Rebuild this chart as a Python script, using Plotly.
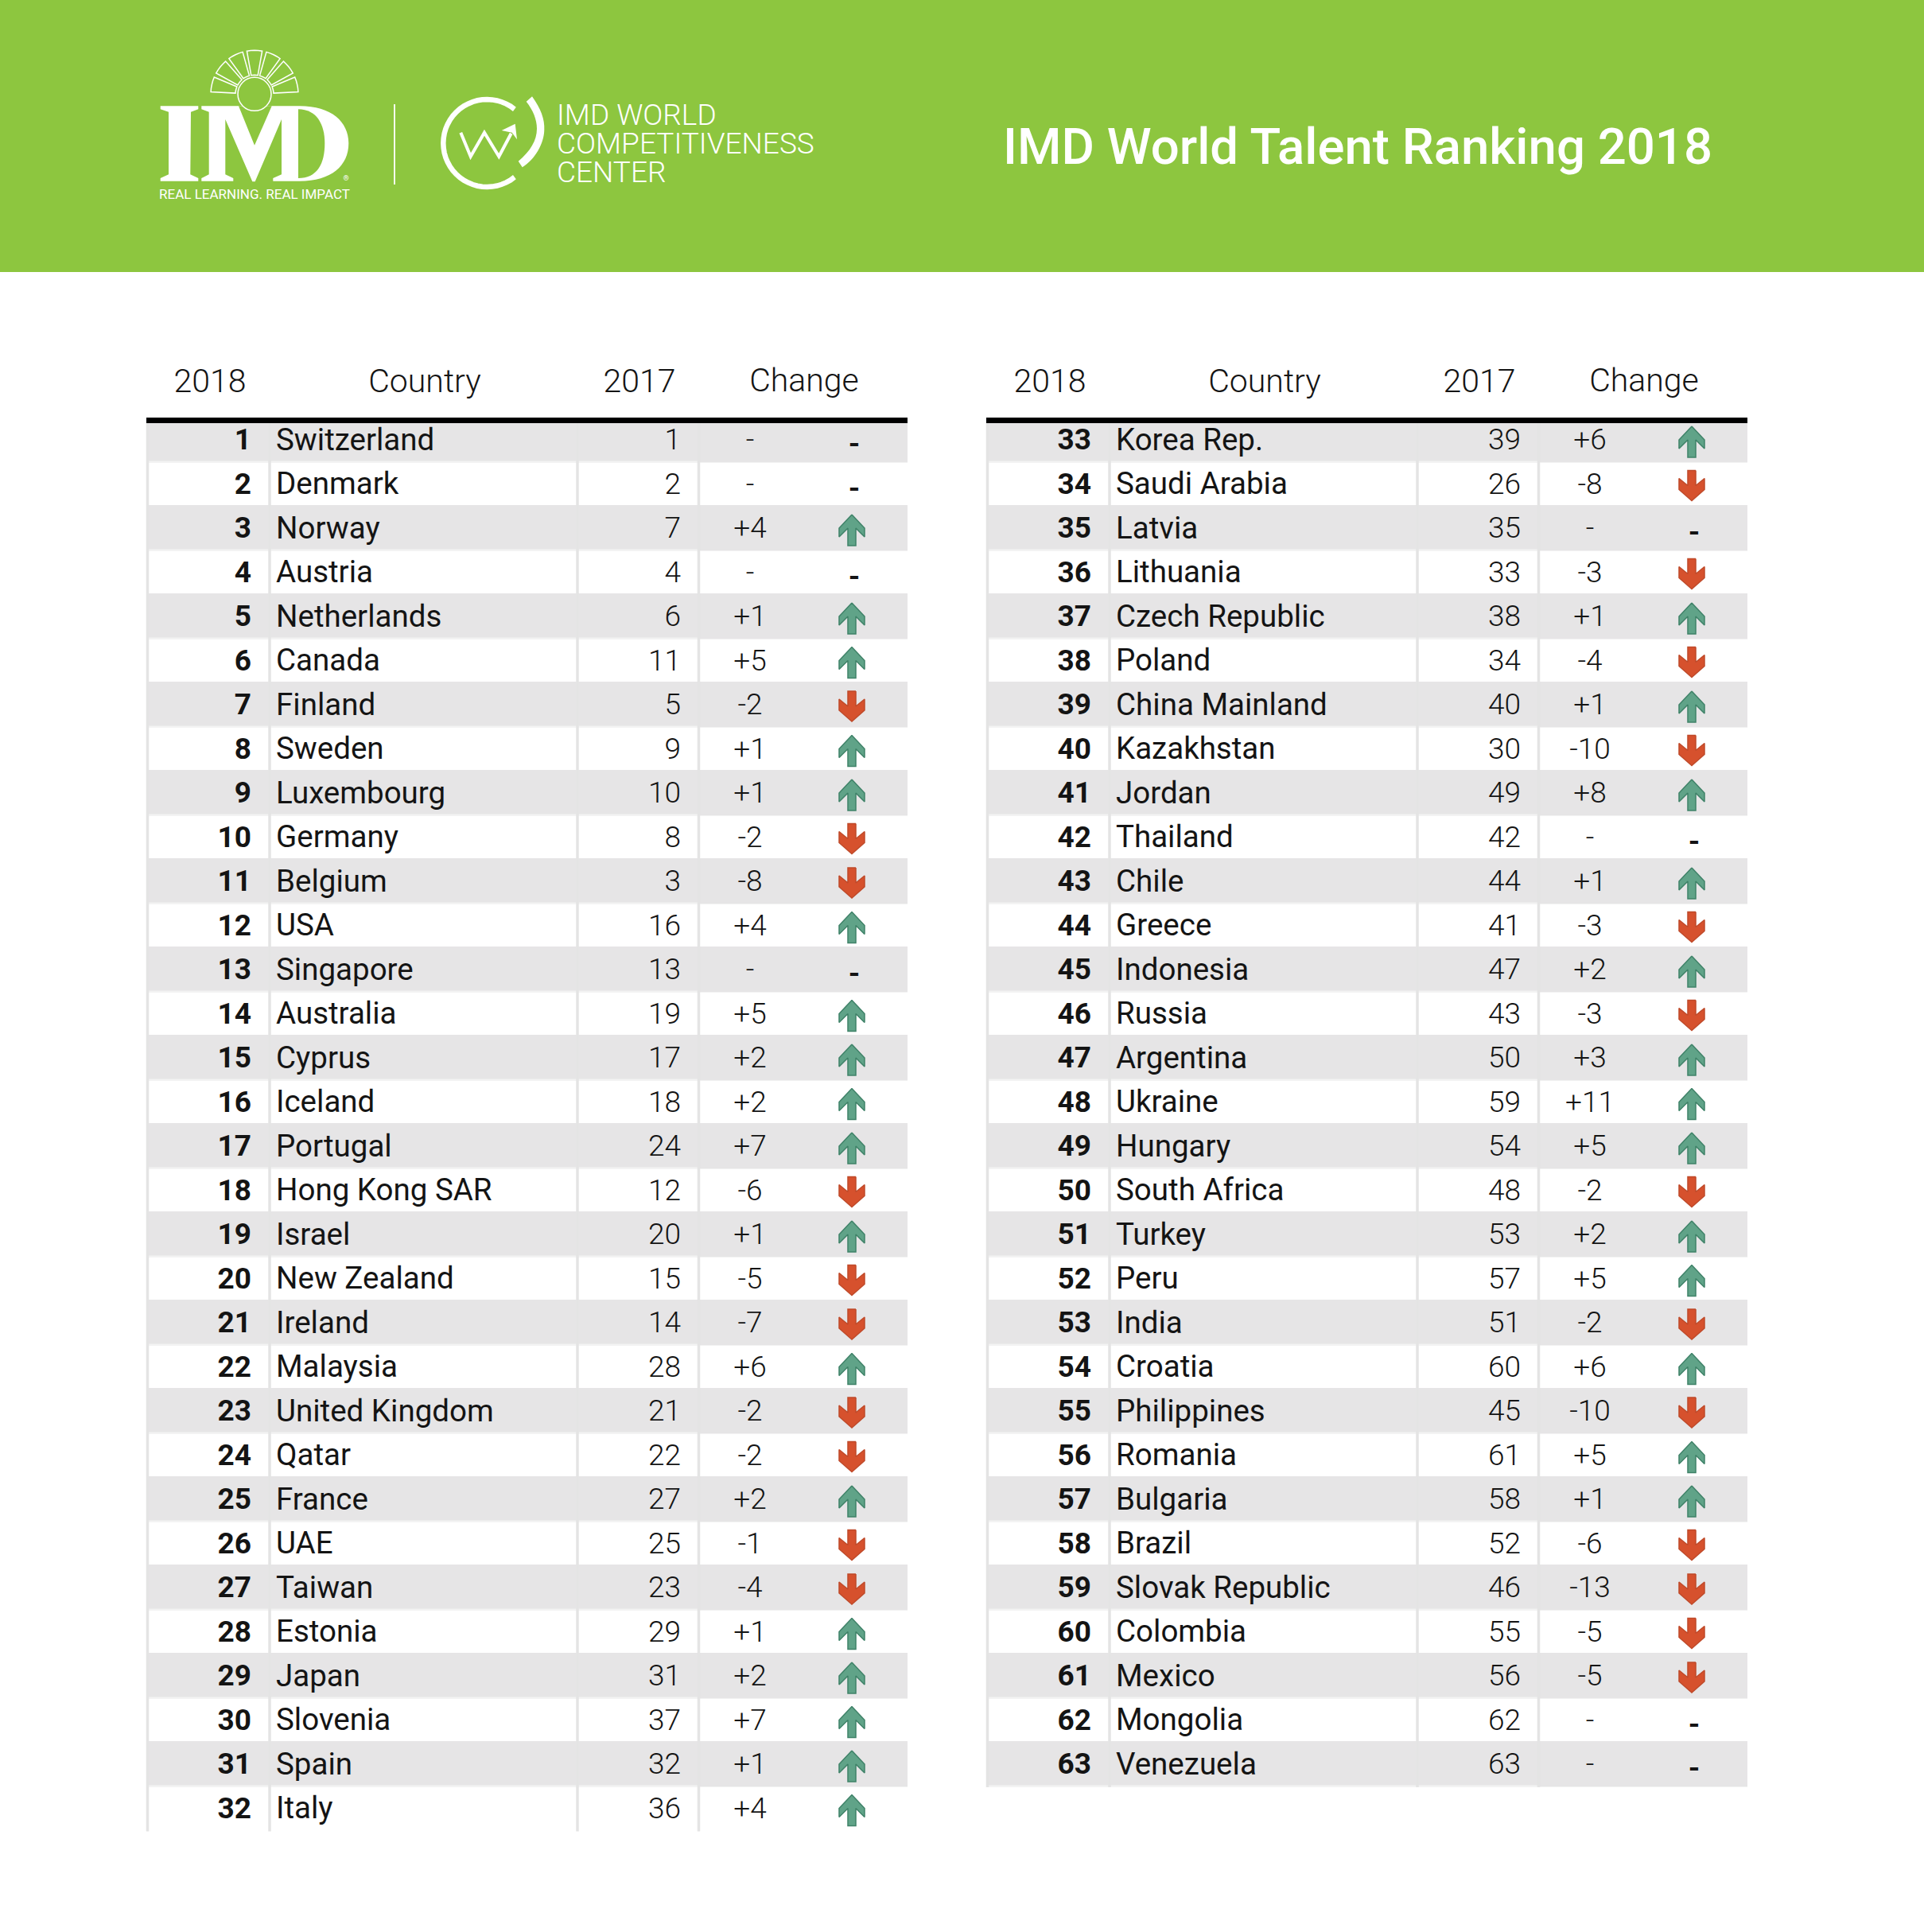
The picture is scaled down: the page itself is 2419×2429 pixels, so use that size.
import math
import plotly.graph_objects as go

# Table data
countries = ["Switzerland", "Denmark", "Norway", "Austria", "Netherlands", "Canada", "Finland", "Sweden",
             "Luxembourg", "Germany", "Belgium", "USA", "Singapore", "Australia", "Cyprus", "Iceland",
             "Portugal", "Hong Kong SAR", "Israel", "New Zealand", "Ireland", "Malaysia", "United Kingdom",
             "Qatar", "France", "UAE", "Taiwan", "Estonia", "Japan", "Slovenia", "Spain", "Italy",
             "Korea Rep.", "Saudi Arabia", "Latvia", "Lithuania", "Czech Republic", "Poland", "China Mainland",
             "Kazakhstan", "Jordan", "Thailand", "Chile", "Greece", "Indonesia", "Russia", "Argentina",
             "Ukraine", "Hungary", "South Africa", "Turkey", "Peru", "India", "Croatia", "Philippines",
             "Romania", "Bulgaria", "Brazil", "Slovak Republic", "Colombia", "Mexico", "Mongolia", "Venezuela"]
rank_2018 = list(range(1, 64))
rank_2017 = [1, 2, 7, 4, 6, 11, 5, 9, 10, 8, 3, 16, 13, 19, 17, 18, 24, 12, 20, 15, 14, 28, 21, 22, 27, 25, 23,
             29, 31, 37, 32, 36,
             39, 26, 35, 33, 38, 34, 40, 30, 49, 42, 44, 41, 47, 43, 50, 59, 54, 48, 53, 57, 51, 60, 45, 61, 58,
             52, 46, 55, 56, 62, 63]
change = [0, 0, 4, 0, 1, 5, -2, 1, 1, -2, -8, 4, 0, 5, 2, 2, 7, -6, 1, -5, -7, 6, -2, -2, 2, -1, -4, 1, 2, 7, 1, 4,
          6, -8, 0, -3, 1, -4, 1, -10, 8, 0, 1, -3, 2, -3, 3, 11, 5, -2, 2, 5, -2, 6, -10, 5, 1, -6, -13, -5, -5, 0, 0]
headers = ["2018", "Country", "2017", "Change"]
title = "IMD World Talent Ranking 2018"

W, H = 2419, 2429
GREEN = "#8DC63F"
BAND = "#E6E5E6"
EDGE = "#F3F3F3"
RULE = "#E4E4E4"
INK = "#141414"
FONT = "Roboto"
ROW0, PITCH = 553, 55.5
TABLE_DX = 1056
SPLIT = 32
TEXT_DY = 3


def row_y(i):
    return ROW0 + PITCH * i


shapes = []


def rect(x0, y0, x1, y1, color):
    shapes.append(dict(type="rect", x0=x0, y0=y0, x1=x1, y1=y1, fillcolor=color, line_width=0, layer="below"))


def path(d, fill=None, line=None, width=0):
    shapes.append(dict(type="path", path=d, fillcolor=fill or "rgba(0,0,0,0)",
                       line=dict(color=line or "rgba(0,0,0,0)", width=width), layer="above"))


def z5(s):
    # logo outlines were measured on a 3x crop starting at 190,50
    return pts(s, 190, 50)


def z6(s):
    # second logo, 3x crop starting at 480,100
    return pts(s, 480, 100)


def pts(s, ox, oy):
    out = []
    for tok in s.split():
        if "," in tok:
            a, b = tok.split(",")
            out.append(f"{ox + float(a) / 3:.1f},{oy + float(b) / 3:.1f}")
        else:
            out.append(tok)
    return " ".join(out)


# green banner
rect(0, 0, W, 342, GREEN)

# table backgrounds
for dx, first, n in [(0, 0, SPLIT), (TABLE_DX, SPLIT, 63 - SPLIT)]:
    for i in range(n):
        y = row_y(i)
        if i % 2 == 0:
            top = max(y - 29, 532)
            rect(184 + dx, top, 878 + dx, y + 29, EDGE)
            rect(184 + dx, top, 878 + dx, y + 26.5, BAND)
            rect(878 + dx, top, 1141 + dx, y + 28.5, BAND)
    bottom = row_y(n - 1) + 29
    for vx in (185.5, 339, 726, 878.5):
        shapes.append(dict(type="line", x0=vx + dx, x1=vx + dx, y0=532, y1=bottom,
                           line=dict(color=RULE, width=3.5), layer="below"))
    shapes.append(dict(type="line", x0=184 + dx, x1=1141 + dx, y0=528.5, y1=528.5,
                       line=dict(color="#000000", width=7)))

# IMD logo
path(z5("M 35,250 L 178,250 L 178,262 L 150,272 L 148,508 L 178,522 L 178,533 L 35,533 L 35,522 L 66,508 "
        "L 66,272 L 35,262 Z"), "white")
path(z5("M 190,250 L 560,250 C 680,250 745,310 745,390 C 745,475 680,533 560,533 L 460,533 L 460,522 "
        "L 492,508 L 492,300 L 392,535 L 382,535 L 280,300 L 280,508 L 310,522 L 310,533 L 190,533 L 190,522 "
        "L 218,508 L 218,272 L 190,262 Z"), "white")
path(z5("M 330,250 L 390,398 L 455,250 Z"), GREEN)
path(z5("M 555,262 C 625,262 655,320 655,390 C 655,470 625,522 555,522 Z"), GREEN)
cx, cy = 190 + 390 / 3, 50 + 205 / 3
shapes.append(dict(type="circle", x0=cx - 21, x1=cx + 21, y0=cy - 21, y1=cy + 21,
                   fillcolor=GREEN, line=dict(color="white", width=1.5)))
for k in range(7):
    mid = math.pi * (k + 0.5) / 7
    half = math.radians(10)
    seg = []
    for r, a0, a1 in [(55, mid - half, mid + half), (24, mid + half, mid - half)]:
        for t in range(5):
            a = a0 + (a1 - a0) * t / 4
            seg.append(f"{cx - r * math.cos(a):.1f},{cy - r * math.sin(a):.1f}")
    path("M " + " L ".join(seg) + " Z", None, "white", 1.5)

# divider between the logos
shapes.append(dict(type="line", x0=496, x1=496, y0=131, y1=232, line=dict(color="white", width=1.8)))

# competitiveness center logo
ring = []
for t in range(41):
    a = math.radians(51 + (360 - 102) * t / 40)
    ring.append(f"{480 + (397 + 165 * math.cos(a)) / 3:.1f},{100 + (240 - 165 * math.sin(a)) / 3:.1f}")
path("M " + " L ".join(ring), None, "white", 6.5)
path(z6("M 567,64 C 600,110 615,150 613,190 C 612,240 580,300 530,331 L 515,308 C 560,270 585,230 585,185 "
        "C 585,150 570,115 545,83 Z"), "white")
path(z6("M 298,200 L 335,290 L 387,200 L 442,290 L 488,203"), None, "white", 4)
path(z6("M 452,192 L 503,167 L 510,226 L 491,200 Z"), "white")

fig = go.Figure()


def text_trace(x, y, text, pos, size, color=INK, weight=400):
    fig.add_trace(go.Scatter(x=x, y=y, text=text, mode="text", textposition=pos,
                             textfont=dict(family=FONT, size=size, color=color, weight=weight),
                             hoverinfo="skip", showlegend=False))


# column headers
for dx in (0, TABLE_DX):
    text_trace([264 + dx, 534 + dx, 804 + dx, 1011 + dx], [483, 483, 483, 482], headers, "middle center", 41,
               weight=300)

rows = [i if i < SPLIT else i - SPLIT for i in range(63)]
offs = [0 if i < SPLIT else TABLE_DX for i in range(63)]
ys = [row_y(r) + TEXT_DY for r in rows]

text_trace([316 + d for d in offs], ys, [str(v) for v in rank_2018], "middle left", 37, weight=700)
text_trace([347 + d for d in offs], ys, countries, "middle right", 38.5, weight=400)
text_trace([856 + d for d in offs], ys, [str(v) for v in rank_2017], "middle left", 37, weight=300)
text_trace([943 + d for d in offs], ys, [f"{v:+d}" if v else "-" for v in change], "middle center", 37, weight=300)

flat = [i for i in range(63) if change[i] == 0]
text_trace([1074 + offs[i] for i in flat], [ys[i] + 5 for i in flat], ["-"] * len(flat), "middle center", 37,
           weight=700)

# arrows
UP = [(0, -17), (16, 0), (16, 11), (5, 0), (5, 22), (-5, 22), (-5, 0), (-16, 11), (-16, 0)]
DOWN = [(5, -17), (5, 2), (16, -7), (16, 7), (0, 21), (-16, 7), (-16, -7), (-5, 2), (-5, -17)]
for sign, outline, fill, edge in [(1, UP, "#60A388", "#3F8268"), (-1, DOWN, "#D6512D", "#BF4A2A")]:
    ax, ay = [], []
    for i in range(63):
        if change[i] * sign > 0:
            for ox, oy in outline + outline[:1]:
                ax.append(1071 + offs[i] + ox)
                ay.append(row_y(rows[i]) + oy)
            ax.append(None)
            ay.append(None)
    fig.add_trace(go.Scatter(x=ax, y=ay, mode="lines", fill="toself", fillcolor=fill,
                             line=dict(color=edge, width=1.5), hoverinfo="skip", showlegend=False))

# banner text
text_trace([1707], [190], [title], "middle center", 63.5, color="white", weight=500)
text_trace([700, 700, 700], [148, 184, 220], ["IMD WORLD", "COMPETITIVENESS", "CENTER"], "middle right", 37,
           color="white", weight=300)
text_trace([320], [246], ["REAL LEARNING. REAL IMPACT"], "middle center", 17, color="white", weight=400)
text_trace([435], [225], ["®"], "middle center", 9, color="white")

fig.update_layout(
    width=W, height=H, margin=dict(l=0, r=0, t=0, b=0),
    paper_bgcolor="white", plot_bgcolor="white", shapes=shapes,
    xaxis=dict(range=[0, W], visible=False, fixedrange=True),
    yaxis=dict(range=[H, 0], visible=False, fixedrange=True),
)

fig.write_html("out.html", config=dict(displayModeBar=False), post_script="document.body.style.margin='0';")
